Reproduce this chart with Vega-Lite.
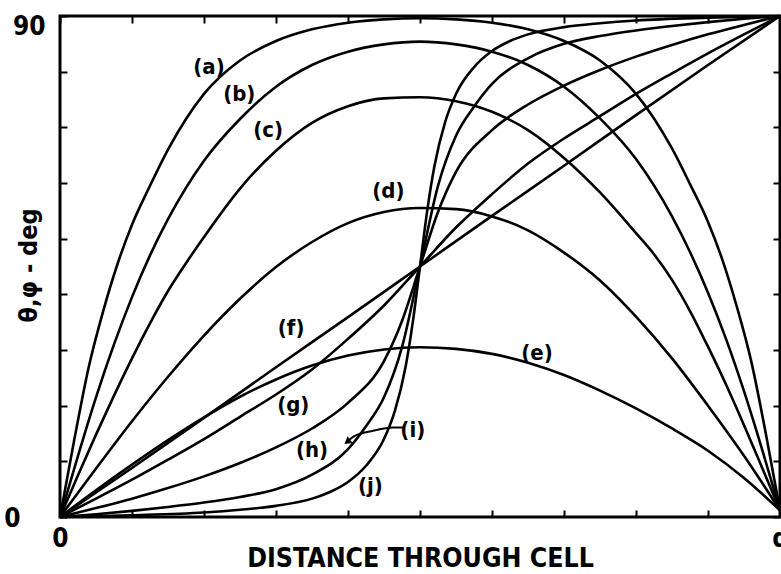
{
  "$schema": "https://vega.github.io/schema/vega-lite/v6.json",
  "width": 720,
  "height": 501,
  "autosize": {"type": "none"},
  "padding": {"left": 60, "top": 16, "right": 1, "bottom": 57},
  "background": "white",
  "config": {
    "view": {"stroke": "black", "strokeWidth": 3},
    "font": "DejaVu Sans Condensed",
    "axis": {"grid": false, "domain": false, "tickColor": "black", "tickWidth": 2, "labelColor": "black", "titleColor": "black"}
  },
  "datasets": {
    "curves": [
      {"curve": "a", "x": 0, "v": 0}, {"curve": "a", "x": 0.02, "v": 14}, {"curve": "a", "x": 0.04, "v": 27}, {"curve": "a", "x": 0.06, "v": 37}, {"curve": "a", "x": 0.08, "v": 45.5}, {"curve": "a", "x": 0.1, "v": 52.5}, {"curve": "a", "x": 0.125, "v": 59.5}, {"curve": "a", "x": 0.15, "v": 66}, {"curve": "a", "x": 0.175, "v": 71.5}, {"curve": "a", "x": 0.2, "v": 76}, {"curve": "a", "x": 0.25, "v": 82}, {"curve": "a", "x": 0.3, "v": 85.5}, {"curve": "a", "x": 0.35, "v": 87.6}, {"curve": "a", "x": 0.4, "v": 88.8}, {"curve": "a", "x": 0.45, "v": 89.4}, {"curve": "a", "x": 0.5, "v": 89.6}, {"curve": "a", "x": 0.55, "v": 89.4}, {"curve": "a", "x": 0.6, "v": 88.8}, {"curve": "a", "x": 0.65, "v": 87.6}, {"curve": "a", "x": 0.7, "v": 85.5}, {"curve": "a", "x": 0.75, "v": 82}, {"curve": "a", "x": 0.8, "v": 76}, {"curve": "a", "x": 0.825, "v": 71.6}, {"curve": "a", "x": 0.85, "v": 66.2}, {"curve": "a", "x": 0.875, "v": 59.8}, {"curve": "a", "x": 0.9, "v": 53}, {"curve": "a", "x": 0.92, "v": 46.2}, {"curve": "a", "x": 0.94, "v": 37.8}, {"curve": "a", "x": 0.96, "v": 28}, {"curve": "a", "x": 0.98, "v": 15.2}, {"curve": "a", "x": 1, "v": 1.2},

      {"curve": "b", "x": 0, "v": 0}, {"curve": "b", "x": 0.025, "v": 11}, {"curve": "b", "x": 0.05, "v": 21.5}, {"curve": "b", "x": 0.075, "v": 31}, {"curve": "b", "x": 0.1, "v": 39.5}, {"curve": "b", "x": 0.125, "v": 47}, {"curve": "b", "x": 0.15, "v": 53.5}, {"curve": "b", "x": 0.2, "v": 64}, {"curve": "b", "x": 0.25, "v": 71.5}, {"curve": "b", "x": 0.3, "v": 77.3}, {"curve": "b", "x": 0.35, "v": 81.2}, {"curve": "b", "x": 0.4, "v": 83.6}, {"curve": "b", "x": 0.45, "v": 84.9}, {"curve": "b", "x": 0.5, "v": 85.4}, {"curve": "b", "x": 0.55, "v": 84.9}, {"curve": "b", "x": 0.6, "v": 83.6}, {"curve": "b", "x": 0.65, "v": 81.2}, {"curve": "b", "x": 0.7, "v": 77.3}, {"curve": "b", "x": 0.75, "v": 71.6}, {"curve": "b", "x": 0.8, "v": 64.3}, {"curve": "b", "x": 0.85, "v": 54}, {"curve": "b", "x": 0.875, "v": 47.6}, {"curve": "b", "x": 0.9, "v": 40.3}, {"curve": "b", "x": 0.925, "v": 32}, {"curve": "b", "x": 0.95, "v": 22.6}, {"curve": "b", "x": 0.975, "v": 12.2}, {"curve": "b", "x": 1, "v": 1.2},

      {"curve": "c", "x": 0, "v": 0}, {"curve": "c", "x": 0.025, "v": 7.5}, {"curve": "c", "x": 0.05, "v": 14.8}, {"curve": "c", "x": 0.075, "v": 21.8}, {"curve": "c", "x": 0.1, "v": 28.5}, {"curve": "c", "x": 0.125, "v": 34.8}, {"curve": "c", "x": 0.15, "v": 40.6}, {"curve": "c", "x": 0.175, "v": 45.6}, {"curve": "c", "x": 0.2, "v": 50.3}, {"curve": "c", "x": 0.25, "v": 59}, {"curve": "c", "x": 0.3, "v": 65.8}, {"curve": "c", "x": 0.35, "v": 70.8}, {"curve": "c", "x": 0.4, "v": 73.8}, {"curve": "c", "x": 0.45, "v": 75.2}, {"curve": "c", "x": 0.5, "v": 75.4}, {"curve": "c", "x": 0.55, "v": 74.7}, {"curve": "c", "x": 0.6, "v": 72.8}, {"curve": "c", "x": 0.65, "v": 69.5}, {"curve": "c", "x": 0.7, "v": 64.5}, {"curve": "c", "x": 0.75, "v": 58.3}, {"curve": "c", "x": 0.8, "v": 51}, {"curve": "c", "x": 0.825, "v": 47.2}, {"curve": "c", "x": 0.85, "v": 42.6}, {"curve": "c", "x": 0.875, "v": 37}, {"curve": "c", "x": 0.9, "v": 30.6}, {"curve": "c", "x": 0.925, "v": 23.8}, {"curve": "c", "x": 0.95, "v": 16.5}, {"curve": "c", "x": 0.975, "v": 8.9}, {"curve": "c", "x": 1, "v": 1.2},

      {"curve": "d", "x": 0, "v": 0}, {"curve": "d", "x": 0.05, "v": 8.7}, {"curve": "d", "x": 0.1, "v": 17.2}, {"curve": "d", "x": 0.15, "v": 25.2}, {"curve": "d", "x": 0.2, "v": 32.6}, {"curve": "d", "x": 0.25, "v": 39.2}, {"curve": "d", "x": 0.3, "v": 44.9}, {"curve": "d", "x": 0.35, "v": 49.4}, {"curve": "d", "x": 0.4, "v": 52.8}, {"curve": "d", "x": 0.45, "v": 54.8}, {"curve": "d", "x": 0.5, "v": 55.5}, {"curve": "d", "x": 0.55, "v": 55.3}, {"curve": "d", "x": 0.6, "v": 54}, {"curve": "d", "x": 0.65, "v": 51.5}, {"curve": "d", "x": 0.7, "v": 47.5}, {"curve": "d", "x": 0.75, "v": 42.5}, {"curve": "d", "x": 0.8, "v": 36}, {"curve": "d", "x": 0.85, "v": 28.5}, {"curve": "d", "x": 0.9, "v": 20}, {"curve": "d", "x": 0.95, "v": 11}, {"curve": "d", "x": 1, "v": 1.2},

      {"curve": "e", "x": 0, "v": 0}, {"curve": "e", "x": 0.05, "v": 4.8}, {"curve": "e", "x": 0.1, "v": 9.4}, {"curve": "e", "x": 0.15, "v": 13.8}, {"curve": "e", "x": 0.2, "v": 17.9}, {"curve": "e", "x": 0.25, "v": 21.6}, {"curve": "e", "x": 0.3, "v": 24.7}, {"curve": "e", "x": 0.35, "v": 27.2}, {"curve": "e", "x": 0.4, "v": 29}, {"curve": "e", "x": 0.45, "v": 30.1}, {"curve": "e", "x": 0.5, "v": 30.5}, {"curve": "e", "x": 0.55, "v": 30.2}, {"curve": "e", "x": 0.6, "v": 29.3}, {"curve": "e", "x": 0.65, "v": 27.7}, {"curve": "e", "x": 0.7, "v": 25.5}, {"curve": "e", "x": 0.75, "v": 22.7}, {"curve": "e", "x": 0.8, "v": 19.5}, {"curve": "e", "x": 0.85, "v": 15.9}, {"curve": "e", "x": 0.9, "v": 11.9}, {"curve": "e", "x": 0.95, "v": 7}, {"curve": "e", "x": 1, "v": 1.2},

      {"curve": "f", "x": 0, "v": 0}, {"curve": "f", "x": 0.1, "v": 8.8}, {"curve": "f", "x": 0.2, "v": 17.8}, {"curve": "f", "x": 0.3, "v": 26.9}, {"curve": "f", "x": 0.4, "v": 35.9}, {"curve": "f", "x": 0.5, "v": 45}, {"curve": "f", "x": 0.6, "v": 54.1}, {"curve": "f", "x": 0.7, "v": 63.1}, {"curve": "f", "x": 0.8, "v": 72.2}, {"curve": "f", "x": 0.9, "v": 81.2}, {"curve": "f", "x": 1, "v": 90},

      {"curve": "g", "x": 0, "v": 0}, {"curve": "g", "x": 0.05, "v": 3.3}, {"curve": "g", "x": 0.1, "v": 6.7}, {"curve": "g", "x": 0.15, "v": 10.3}, {"curve": "g", "x": 0.2, "v": 14}, {"curve": "g", "x": 0.25, "v": 18}, {"curve": "g", "x": 0.3, "v": 22}, {"curve": "g", "x": 0.35, "v": 26.5}, {"curve": "g", "x": 0.4, "v": 32}, {"curve": "g", "x": 0.45, "v": 38}, {"curve": "g", "x": 0.5, "v": 45}, {"curve": "g", "x": 0.55, "v": 52}, {"curve": "g", "x": 0.6, "v": 58}, {"curve": "g", "x": 0.65, "v": 63.5}, {"curve": "g", "x": 0.7, "v": 68}, {"curve": "g", "x": 0.75, "v": 72}, {"curve": "g", "x": 0.8, "v": 76}, {"curve": "g", "x": 0.85, "v": 79.7}, {"curve": "g", "x": 0.9, "v": 83.3}, {"curve": "g", "x": 0.95, "v": 86.7}, {"curve": "g", "x": 1, "v": 90},

      {"curve": "h", "x": 0, "v": 0}, {"curve": "h", "x": 0.05, "v": 1.6}, {"curve": "h", "x": 0.1, "v": 3.3}, {"curve": "h", "x": 0.15, "v": 5.2}, {"curve": "h", "x": 0.2, "v": 7.3}, {"curve": "h", "x": 0.25, "v": 9.7}, {"curve": "h", "x": 0.3, "v": 12.5}, {"curve": "h", "x": 0.35, "v": 15.9}, {"curve": "h", "x": 0.4, "v": 20.5}, {"curve": "h", "x": 0.45, "v": 28}, {"curve": "h", "x": 0.475, "v": 35.2}, {"curve": "h", "x": 0.5, "v": 45}, {"curve": "h", "x": 0.525, "v": 54.8}, {"curve": "h", "x": 0.55, "v": 62}, {"curve": "h", "x": 0.6, "v": 69.5}, {"curve": "h", "x": 0.65, "v": 74.1}, {"curve": "h", "x": 0.7, "v": 77.5}, {"curve": "h", "x": 0.75, "v": 80.3}, {"curve": "h", "x": 0.8, "v": 82.7}, {"curve": "h", "x": 0.85, "v": 84.8}, {"curve": "h", "x": 0.9, "v": 86.7}, {"curve": "h", "x": 0.95, "v": 88.4}, {"curve": "h", "x": 1, "v": 90},

      {"curve": "i", "x": 0, "v": 0}, {"curve": "i", "x": 0.05, "v": 0.5}, {"curve": "i", "x": 0.1, "v": 1.1}, {"curve": "i", "x": 0.15, "v": 1.8}, {"curve": "i", "x": 0.2, "v": 2.6}, {"curve": "i", "x": 0.25, "v": 3.6}, {"curve": "i", "x": 0.3, "v": 5}, {"curve": "i", "x": 0.35, "v": 7.6}, {"curve": "i", "x": 0.4, "v": 12.2}, {"curve": "i", "x": 0.425, "v": 16.3}, {"curve": "i", "x": 0.45, "v": 21.5}, {"curve": "i", "x": 0.475, "v": 30.5}, {"curve": "i", "x": 0.5, "v": 45}, {"curve": "i", "x": 0.525, "v": 59.5}, {"curve": "i", "x": 0.55, "v": 68.5}, {"curve": "i", "x": 0.575, "v": 73.7}, {"curve": "i", "x": 0.6, "v": 77.8}, {"curve": "i", "x": 0.65, "v": 82.4}, {"curve": "i", "x": 0.7, "v": 85}, {"curve": "i", "x": 0.75, "v": 86.4}, {"curve": "i", "x": 0.8, "v": 87.4}, {"curve": "i", "x": 0.85, "v": 88.2}, {"curve": "i", "x": 0.9, "v": 88.9}, {"curve": "i", "x": 0.95, "v": 89.5}, {"curve": "i", "x": 1, "v": 90},

      {"curve": "j", "x": 0, "v": 0}, {"curve": "j", "x": 0.1, "v": 0.3}, {"curve": "j", "x": 0.2, "v": 0.8}, {"curve": "j", "x": 0.25, "v": 1.3}, {"curve": "j", "x": 0.3, "v": 2}, {"curve": "j", "x": 0.35, "v": 3.3}, {"curve": "j", "x": 0.375, "v": 4.5}, {"curve": "j", "x": 0.4, "v": 6.3}, {"curve": "j", "x": 0.425, "v": 9.2}, {"curve": "j", "x": 0.45, "v": 14}, {"curve": "j", "x": 0.465, "v": 19}, {"curve": "j", "x": 0.48, "v": 27}, {"curve": "j", "x": 0.49, "v": 35}, {"curve": "j", "x": 0.5, "v": 45}, {"curve": "j", "x": 0.51, "v": 55}, {"curve": "j", "x": 0.52, "v": 63}, {"curve": "j", "x": 0.535, "v": 71}, {"curve": "j", "x": 0.55, "v": 76}, {"curve": "j", "x": 0.575, "v": 80.8}, {"curve": "j", "x": 0.6, "v": 83.7}, {"curve": "j", "x": 0.625, "v": 85.5}, {"curve": "j", "x": 0.65, "v": 86.7}, {"curve": "j", "x": 0.7, "v": 88}, {"curve": "j", "x": 0.75, "v": 88.7}, {"curve": "j", "x": 0.8, "v": 89.2}, {"curve": "j", "x": 0.9, "v": 89.7}, {"curve": "j", "x": 1, "v": 90}
    ],
    "labels": [
      {"label": "(a)", "x": 0.207, "v": 80.8},
      {"label": "(b)", "x": 0.249, "v": 75.9},
      {"label": "(c)", "x": 0.289, "v": 69.6},
      {"label": "(d)", "x": 0.456, "v": 58.5},
      {"label": "(e)", "x": 0.6625, "v": 29.5},
      {"label": "(f)", "x": 0.321, "v": 34.0},
      {"label": "(g)", "x": 0.324, "v": 20.1},
      {"label": "(h)", "x": 0.35, "v": 12.0},
      {"label": "(i)", "x": 0.49, "v": 15.7},
      {"label": "(j)", "x": 0.431, "v": 5.6}
    ],
    "pointer": [
      {"step": 1, "x": 0.478, "v": 16.1},
      {"step": 2, "x": 0.4625, "v": 16.1},
      {"step": 3, "x": 0.435, "v": 15.5},
      {"step": 4, "x": 0.407, "v": 14.4},
      {"step": 5, "x": 0.399, "v": 13.5}
    ],
    "pointerTip": [
      {"x": 0.399, "v": 13.5}
    ]
  },
  "resolve": {"axis": {"x": "independent", "y": "independent"}},
  "layer": [
    {
      "data": {"name": "curves"},
      "mark": {"type": "line", "interpolate": "monotone", "stroke": "black", "strokeWidth": 2.6},
      "encoding": {
        "x": {
          "field": "x", "type": "quantitative",
          "scale": {"domain": [0, 1], "nice": false, "zero": false},
          "axis": {
            "orient": "bottom",
            "values": [0, 0.1, 0.2, 0.3, 0.4, 0.5, 0.6, 0.7, 0.8, 0.9, 1],
            "tickSize": -7,
            "labelExpr": "datum.value == 0 ? '0' : datum.value == 1 ? 'd' : ''",
            "labelFlush": false,
            "labelOverlap": false,
            "labelFont": "DejaVu Sans Condensed",
            "labelFontSize": 26,
            "labelFontWeight": "bold",
            "labelBaseline": "top",
            "labelPadding": 15,
            "title": "DISTANCE THROUGH CELL",
            "titleFont": "DejaVu Sans Condensed",
            "titleFontSize": 26.5,
            "titleFontWeight": "bold",
            "titleAlign": "center",
            "titleBaseline": "alphabetic",
            "titleX": 360,
            "titleY": 49
          }
        },
        "y": {
          "field": "v", "type": "quantitative",
          "scale": {"domain": [0, 90], "nice": false, "zero": false},
          "axis": {
            "orient": "left",
            "values": [0, 10, 20, 30, 40, 50, 60, 70, 80, 90],
            "tickSize": -7,
            "labelExpr": "datum.value == 90 ? '90' : datum.value == 0 ? '0' : ''",
            "labelFlush": false,
            "labelOverlap": false,
            "labelFont": "DejaVu Sans Condensed",
            "labelFontSize": 26,
            "labelFontWeight": "bold",
            "labelBaseline": "middle",
            "labelPadding": {"condition": {"test": "datum.value == 0", "value": 47}, "value": 22},
            "labelOffset": {"condition": {"test": "datum.value == 0", "value": 1}, "value": 10},
            "title": "θ,φ - deg",
            "titleFont": "DejaVu Sans Condensed",
            "titleFontSize": 25,
            "titleFontWeight": "bold",
            "titleAngle": 270,
            "titleAlign": "center",
            "titleBaseline": "middle",
            "titleX": -32,
            "titleY": 249
          }
        },
        "detail": {"field": "curve"}
      }
    },
    {
      "data": {"name": "labels"},
      "mark": {"type": "text", "font": "DejaVu Sans Condensed", "fontSize": 22, "fontWeight": "bold", "align": "center", "baseline": "middle", "color": "black"},
      "encoding": {
        "x": {
          "field": "x", "type": "quantitative",
          "axis": {"orient": "top", "values": [0, 0.1, 0.2, 0.3, 0.4, 0.5, 0.6, 0.7, 0.8, 0.9, 1], "tickSize": -7, "labels": false, "title": null}
        },
        "y": {
          "field": "v", "type": "quantitative",
          "axis": {"orient": "right", "values": [0, 10, 20, 30, 40, 50, 60, 70, 80, 90], "tickSize": -7, "labels": false, "title": null}
        },
        "text": {"field": "label"}
      }
    },
    {
      "data": {"name": "pointer"},
      "mark": {"type": "line", "stroke": "black", "strokeWidth": 2, "interpolate": "monotone"},
      "encoding": {
        "x": {"field": "x", "type": "quantitative", "axis": null},
        "y": {"field": "v", "type": "quantitative", "axis": null},
        "order": {"field": "step"}
      }
    },
    {
      "data": {"name": "pointerTip"},
      "mark": {"type": "point", "shape": "triangle-left", "filled": true, "color": "black", "opacity": 1, "size": 70, "angle": 322},
      "encoding": {
        "x": {"field": "x", "type": "quantitative", "axis": null},
        "y": {"field": "v", "type": "quantitative", "axis": null}
      }
    }
  ]
}
